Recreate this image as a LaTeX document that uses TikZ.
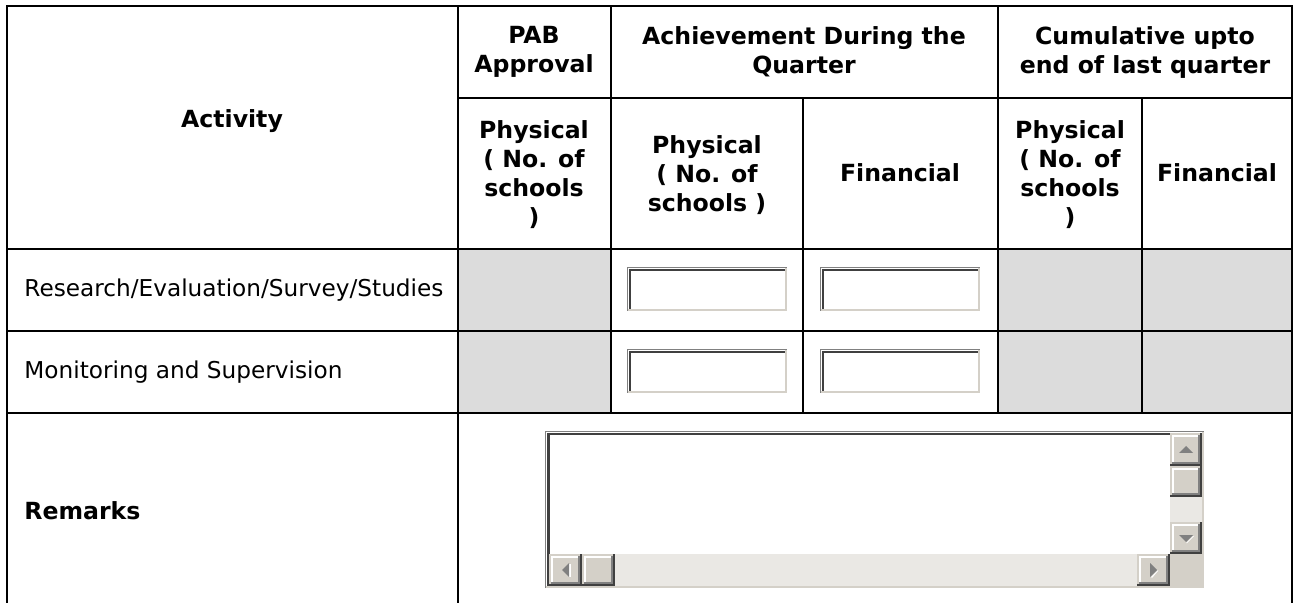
\documentclass[tikz,border=0pt]{standalone}
\usepackage{fontspec}
\setmainfont{DejaVu Sans}
\usepackage[dvipsnames]{xcolor}
\definecolor{cellgray}{HTML}{DCDCDC}
\definecolor{btnface}{HTML}{D4D0C8}
\definecolor{shadowgray}{HTML}{808080}
\definecolor{darkedge}{HTML}{404040}
\definecolor{trackgray}{HTML}{EAE8E4}

% 3D scroll bar button: x1, y1, x2, y2
\newcommand{\scrollbtn}[4]{
	\fill[btnface] (#1,#2) rectangle (#3,#4);
	\draw[darkedge,line width=1pt] (#1,#4-1) -- (#3-1,#4-1) -- (#3-1,#2);
	\draw[shadowgray,line width=1pt] (#1+2,#4-3) -- (#3-3,#4-3) -- (#3-3,#2+2);
	\draw[white,line width=1pt] (#1+3,#4-4) -- (#1+3,#2+3) -- (#3-4,#2+3);
}

\begin{document}
\begin{tikzpicture}[x=0.5pt,y=-0.5pt,
	grid/.style={line width=1.2pt,draw=black},
	head/.style={align=center,inner sep=0pt,font=\fontsize{11.8}{14.5}\selectfont\bfseries},
	body/.style={anchor=west,inner sep=0pt,font=\fontsize{11.6}{14.5}\selectfont}]
	\useasboundingbox (0,0) rectangle (1300,603);

	% shaded cells
	\fill[cellgray] (458,249) rectangle (611,413);
	\fill[cellgray] (998,249) rectangle (1292,413);

	% table rules
	\draw[grid] (7,603) -- (7,6) -- (1292,6) -- (1292,603);
	\draw[grid] (458,6) -- (458,603);
	\draw[grid] (611,6) -- (611,413);
	\draw[grid] (998,6) -- (998,413);
	\draw[grid] (803,98) -- (803,413);
	\draw[grid] (1142,98) -- (1142,413);
	\draw[grid] (458,98) -- (1292,98);
	\draw[grid] (7,249) -- (1292,249);
	\draw[grid] (7,331) -- (1292,331);
	\draw[grid] (7,413) -- (1292,413);

	% header texts
	\node[head] (activity) at (232,121) {Activity};
	\node[head] (pab) at (534,52) {PAB\\Approval};
	\node[head] (achieve) at (804,52) {Achievement During the\\Quarter};
	\node[head] (cumul) at (1145,52) {Cumulative upto\\end of last quarter};
	\node[head] (pabphys) at (534,175) {Physical\\( No. of\\schools\\)};
	\node[head] (achphys) at (707,175) {Physical\\( No. of\\schools )};
	\node[head] (achfin) at (900,173) {Financial};
	\node[head] (cumphys) at (1070,175) {Physical\\( No. of\\schools\\)};
	\node[head] (cumfin) at (1217,173) {Financial};

	% row texts
	\node[body] (research) at (24,290) {Research/Evaluation/Survey/Studies};
	\node[body] (monitor) at (24,372) {Monitoring and Supervision};
	\node[body,font=\fontsize{11.8}{14.5}\selectfont\bfseries] (remarks) at (24,511) {Remarks};

	% input boxes
	\foreach \bx in {627,820}
		\foreach \by in {267,349}{
			\fill[white] (\bx,\by) rectangle (\bx+160,\by+44);
			\draw[btnface,line width=1pt] (\bx,\by+43) -- (\bx+159,\by+43) -- (\bx+159,\by);
			\draw[shadowgray,line width=0.6pt] (\bx+0.6,\by+44) -- (\bx+0.6,\by+0.6) -- (\bx+160,\by+0.6);
			\draw[darkedge,line width=1.3pt] (\bx+2.8,\by+42) -- (\bx+2.8,\by+3.2) -- (\bx+158,\by+3.2);
		}

	% remarks text area
	\fill[white] (545,431) rectangle (1204,588);
	\draw[btnface,line width=1pt] (545,587) -- (1203,587) -- (1203,431);
	\draw[shadowgray,line width=0.6pt] (545.6,588) -- (545.6,431.6) -- (1204,431.6);
	\draw[darkedge,line width=1.3pt] (548.2,586) -- (548.2,434.2) -- (1202,434.2);
	\fill[trackgray] (1170,497) rectangle (1202,523);
	\fill[trackgray] (615,554) rectangle (1137,586);
	\fill[btnface] (1170,553) rectangle (1202,586);
	\scrollbtn{1170}{433}{1202}{466}
	\scrollbtn{1170}{466}{1202}{497}
	\scrollbtn{1170}{522}{1202}{554}
	\scrollbtn{549}{554}{582}{586}
	\scrollbtn{582}{554}{615}{586}
	\scrollbtn{1137}{554}{1170}{586}

	% arrows
	\fill[shadowgray] (1179,453) -- (1193,453) -- (1186,446) -- cycle;
	\fill[white] (1187,543) -- (1194,536) -- (1193,536) -- (1186,543) -- cycle;
	\fill[shadowgray] (1179,535) -- (1193,535) -- (1186,542) -- cycle;
	\fill[white] (569,577) rectangle (570.5,564);
	\fill[shadowgray] (569,563) -- (569,577) -- (562,570) -- cycle;
	\fill[white] (1151,577) -- (1158,570) -- (1158,571) -- (1152,578) -- cycle;
	\fill[shadowgray] (1150,563) -- (1150,577) -- (1157,570) -- cycle;
\end{tikzpicture}
\end{document}
